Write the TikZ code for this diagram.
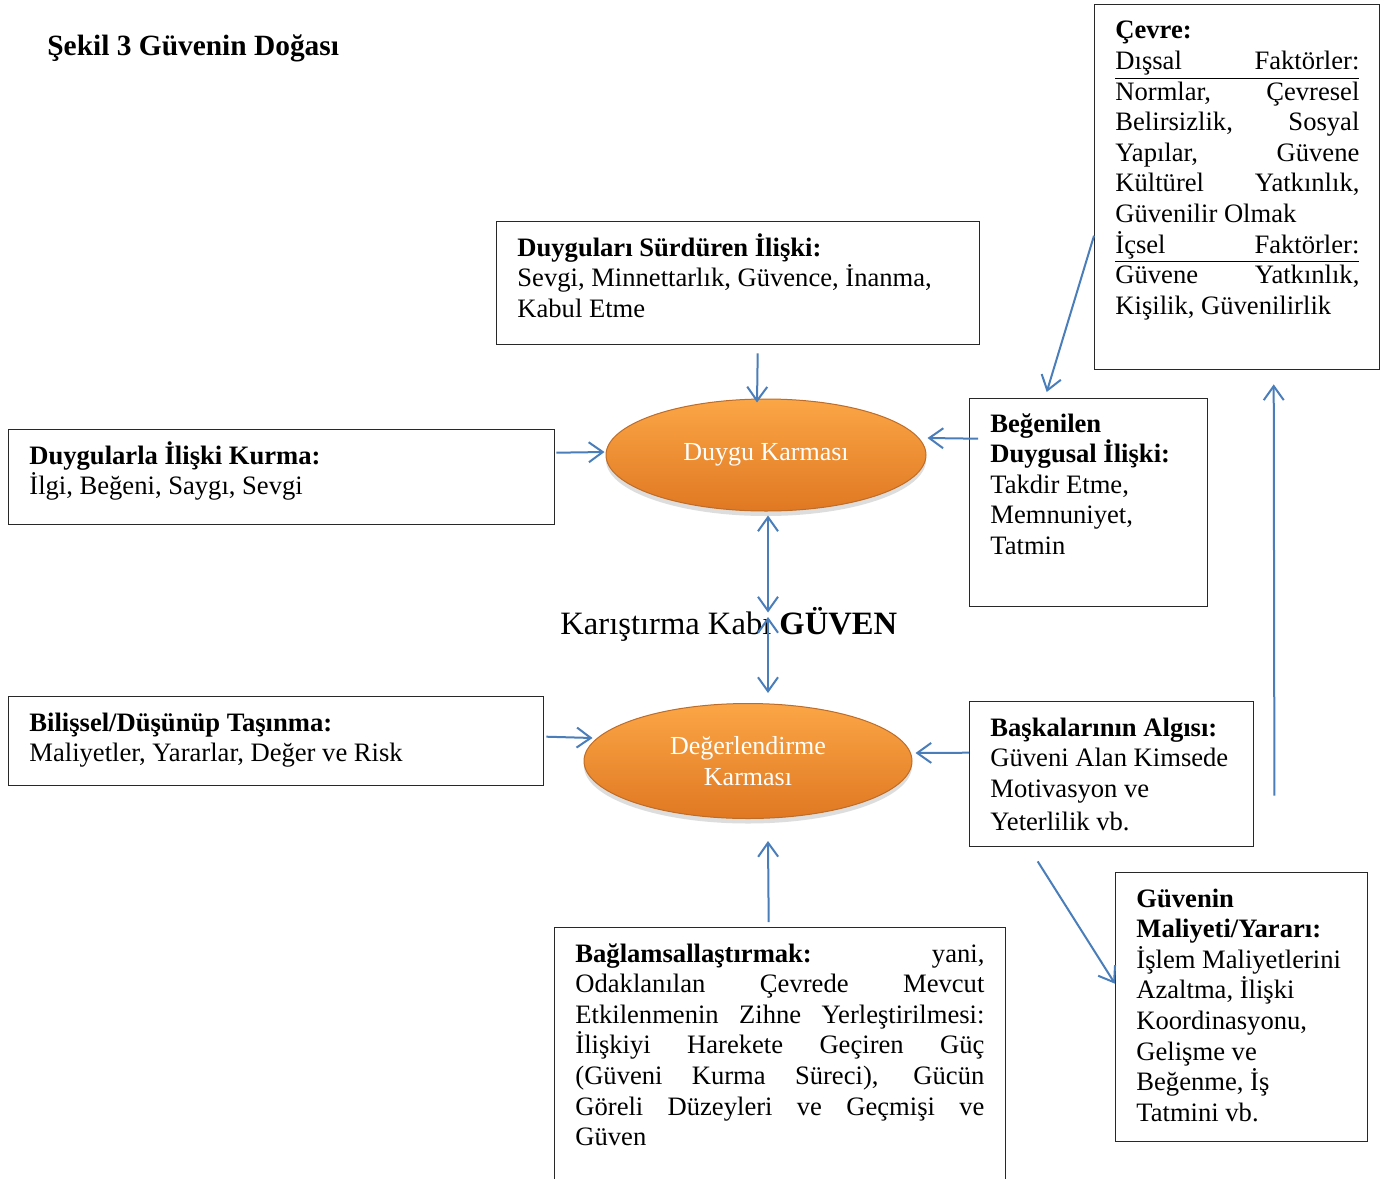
\documentclass[tikz,border=0pt]{standalone}
\usepackage{fontspec}
\setmainfont{Liberation Serif}
\usetikzlibrary{arrows.meta,shapes.geometric,shadows}
\definecolor{arrowblue}{RGB}{74,126,187}
\definecolor{boxline}{RGB}{40,40,40}
\definecolor{orangetop}{RGB}{251,166,70}
\definecolor{orangebot}{RGB}{224,120,34}
\definecolor{orangeedge}{RGB}{190,108,40}
\newcommand\jl[2]{{\spaceskip=0pt\xspaceskip=0pt\makebox[#1][s]{#2}}}
\begin{document}
\begin{tikzpicture}[x=0.5pt,y=-0.5pt,
  bluetip/.tip={Straight Barb[length=7pt,width=10pt]},
  box/.style={draw=boxline, line width=0.7pt, inner sep=0pt, anchor=north west},
  txt/.style={anchor=base west, inner sep=0pt, align=left, text width=#1,
    font=\fontsize{13.3}{15.3}\selectfont,
    execute at begin node={\spaceskip=0pt\xspaceskip=0pt}},
  txt/.default=200pt,
  arr/.style={draw=arrowblue, line width=1pt, -bluetip},
  darr/.style={draw=arrowblue, line width=1pt, bluetip-bluetip},
  blob/.style={ellipse, draw=orangeedge, line width=0.5pt, inner sep=0pt,
    top color=orangetop, bottom color=orangebot, text=white, align=center,
    font=\fontsize{13}{15.5}\selectfont,
    execute at begin node={\spaceskip=0pt\xspaceskip=0pt},
    drop shadow={shadow xshift=0pt, shadow yshift=-2.5pt, opacity=0.22, fill=black!60}}
]
\useasboundingbox (0,0) rectangle (1386,1178);
\begin{scope}
\clip (0,0) rectangle (1386,1178);
\fill[white] (0,0) rectangle (1386,1178);

% title
\node[anchor=base west, inner sep=0pt, font=\fontsize{14.7}{17}\selectfont\bfseries] (T) at (47,55) {Şekil 3 Güvenin Doğası};

% boxes
\node[box, minimum width=241.5pt, minimum height=61.5pt] (A) at (496,221) {};
\node[box, minimum width=273pt, minimum height=47.5pt] (B) at (8,429) {};
\node[box, minimum width=119pt, minimum height=104pt] (C) at (969,398) {};
\node[box, minimum width=142.5pt, minimum height=182.5pt] (D) at (1094,4) {};
\node[box, minimum width=267.5pt, minimum height=44.5pt] (E) at (8,696) {};
\node[box, minimum width=142pt, minimum height=72.5pt] (F) at (969,701) {};
\node[box, minimum width=225.5pt, minimum height=140pt] (G) at (554,927) {};
\node[box, minimum width=126pt, minimum height=134.5pt] (H) at (1115,872) {};

% box texts
\node[txt=225pt] (At) at (517,256) {\textbf{Duyguları Sürdüren İlişki:}\\Sevgi, Minnettarlık, Güvence, İnanma,\\Kabul Etme};
\node[txt=250pt] (Bt) at (29,464) {\textbf{Duygularla İlişki Kurma:}\\İlgi, Beğeni, Saygı, Sevgi};
\node[txt=106pt] (Ct) at (990,432) {\textbf{Beğenilen}\\\textbf{Duygusal İlişki:}\\Takdir Etme,\\Memnuniyet,\\Tatmin};
\node[txt=122pt] (Dt) at (1115,39) {\textbf{Çevre:}\\
\underline{\jl{122pt}{Dışsal Faktörler:}}\\
\jl{122pt}{Normlar, Çevresel}\\
\jl{122pt}{Belirsizlik, Sosyal}\\
\jl{122pt}{Yapılar, Güvene}\\
\jl{122pt}{Kültürel Yatkınlık,}\\
Güvenilir Olmak\\
\underline{\jl{122pt}{İçsel Faktörler:}}\\
\jl{122pt}{Güvene Yatkınlık,}\\
Kişilik, Güvenilirlik};
\node[txt=250pt] (Et) at (29,731) {\textbf{Bilişsel/Düşünüp Taşınma:}\\Maliyetler, Yararlar, Değer ve Risk};
\node[txt=128pt] (Ft) at (990,736) {\textbf{Başkalarının Algısı:}\\Güveni Alan Kimsede\\Motivasyon ve\\[1.5pt]Yeterlilik vb.};
\node[txt=204.5pt] (Gt) at (575,962) {\jl{204.5pt}{\textbf{Bağlamsallaştırmak:} yani,}\\
\jl{204.5pt}{Odaklanılan Çevrede Mevcut}\\
\jl{204.5pt}{Etkilenmenin Zihne Yerleştirilmesi:}\\
\jl{204.5pt}{İlişkiyi Harekete Geçiren Güç}\\
\jl{204.5pt}{(Güveni Kurma Süreci), Gücün}\\
\jl{204.5pt}{Göreli Düzeyleri ve Geçmişi ve}\\
Güven};
\node[txt=112pt] (Ht) at (1136,907) {\textbf{Güvenin}\\\textbf{Maliyeti/Yararı:}\\İşlem Maliyetlerini\\Azaltma, İlişki\\Koordinasyonu,\\Gelişme ve\\Beğenme, İş\\Tatmini vb.};

% ellipses
\node[blob, minimum width=160pt, minimum height=56pt] (E1) at (766,455) {Duygu Karması};
\node[blob, minimum width=164pt, minimum height=57.5pt] (E2) at (748,761) {Değerlendirme\\Karması};

% central text
\node[anchor=base west, inner sep=0pt, font=\fontsize{16.3}{19}\selectfont] (K) at (560,634) {Karıştırma Kabı \textbf{GÜVEN}};

% arrows
\draw[arr] ([shift={(19.5,8)}]A.south) -- ([shift={(-9,4)}]E1.north);
\draw[arr] ([shift={(1,-24.5)}]B.east) -- ([shift={(-1,-3)}]E1.west);
\draw[arr] ([shift={(9,-64)}]C.west) -- ([shift={(1,-17)}]E1.east);
\draw[arr] ([shift={(0,48.5)}]D.west) -- ([shift={(-42,-6)}]C.north);
\draw[darr] ([shift={(2,4)}]E1.south) -- ([shift={(2,101)}]E1.south);
\draw[darr] ([shift={(20,-86)}]E2.north) -- ([shift={(20,-10)}]E2.north);
\draw[arr] ([shift={(2,-4.5)}]E.east) -- ([shift={(9,-23)}]E2.west);
\draw[arr] ([shift={(0,-21.5)}]F.west) -- ([shift={(3,-8)}]E2.east);
\draw[arr] ([shift={(-11.5,-5)}]G.north) -- ([shift={(20,22)}]E2.south);
\draw[arr] ([shift={(-74,14)}]F.south) -- ([shift={(0,-23.5)}]H.west);
\draw[arr] ([shift={(20,21.5)}]F.east) -- ([shift={(36.5,14)}]D.south);
\end{scope}
\end{tikzpicture}
\end{document}
